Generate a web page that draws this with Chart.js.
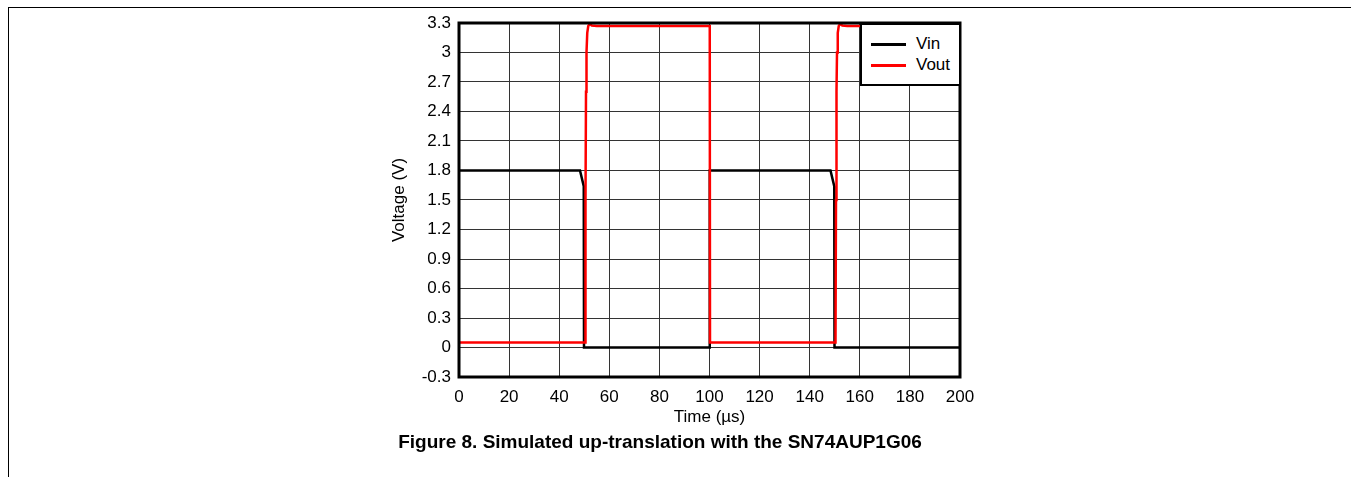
<!DOCTYPE html>
<html>
<head>
<meta charset="utf-8">
<script src="https://cdn.jsdelivr.net/npm/chart.js@4.4.1/dist/chart.umd.min.js"></script>
<style>
  html, body { margin: 0; padding: 0; background: #fff; }
  body { width: 1351px; height: 477px; position: relative; overflow: hidden; font-family: "Liberation Sans", Arial, sans-serif; }
  #frame { position: absolute; left: 8px; top: 7px; right: -4px; bottom: -4px; border-left: 1.5px solid #000; border-top: 1.5px solid #000; }
  #wrap { position: absolute; left: 0; top: 0; width: 1351px; height: 477px; }
  #legend { position: absolute; left: 860px; top: 23px; width: 97px; height: 59px; border: 2px solid #000; background: #fff; }
  .item { position: absolute; left: 9px; font-size: 17px; line-height: 20px; color: #000; }
  .item span.swatch { display: inline-block; width: 35px; height: 2.5px; vertical-align: middle; margin-right: 10px; }
  #caption { position: absolute; left: 0; width: 1320px; top: 431px; text-align: center; font-weight: bold; font-size: 19px; color: #000; }
</style>
</head>
<body>
<div id="frame"></div>
<div id="wrap"><canvas id="chart" width="1351" height="477"></canvas></div>
<div id="legend"></div>
<div id="caption">Figure 8. Simulated up-translation with the SN74AUP1G06</div>
<script>
// Data
const vinTime  = [0, 48.3, 49.8, 49.9, 100, 100.1, 148.3, 149.8, 149.9, 200];
const vinVolt  = [1.8, 1.8, 1.64, 0, 0, 1.8, 1.8, 1.64, 0, 0];

const voutTime = [0, 50.3, 50.5, 50.7, 50.9, 51.2, 51.6, 52.2, 53, 55, 100.1, 100.2,
                  150.3, 150.5, 150.7, 150.9, 151.2, 151.6, 152.2, 153, 155, 200];
const voutVolt = [0.05, 0.05, 1.5, 2.6, 3.0, 3.2, 3.27, 3.29, 3.275, 3.27, 3.27, 0.05,
                  0.05, 1.5, 2.6, 3.0, 3.2, 3.27, 3.29, 3.275, 3.27, 3.27];

const xTicks = [0, 20, 40, 60, 80, 100, 120, 140, 160, 180, 200];
const yTicks = [-0.3, 0, 0.3, 0.6, 0.9, 1.2, 1.5, 1.8, 2.1, 2.4, 2.7, 3, 3.3];

const toPoints = (xs, ys) => xs.map((x, i) => ({ x: x, y: ys[i] }));

// Thick box around the plot area
const plotBorder = {
  id: "plotBorder",
  afterDatasetsDraw(chart) {
    const { ctx, chartArea: a } = chart;
    ctx.save();
    ctx.strokeStyle = "#000";
    ctx.lineWidth = 3;
    ctx.strokeRect(a.left, a.top, a.right - a.left, a.bottom - a.top);
    ctx.restore();
  }
};

const font = { family: "'Liberation Sans', Arial, sans-serif", size: 17 };

const chart = new Chart(document.getElementById("chart"), {
  type: "line",
  data: {
    datasets: [
      { label: "Vin", data: toPoints(vinTime, vinVolt), borderColor: "#000", borderWidth: 2.5, order: 1 },
      { label: "Vout", data: toPoints(voutTime, voutVolt), borderColor: "#ff0000", borderWidth: 2.5, order: 0 }
    ]
  },
  options: {
    responsive: false,
    animation: false,
    events: [],
    layout: { padding: { left: 389, right: 391, top: 23, bottom: 49 } },
    elements: { point: { radius: 0 }, line: { tension: 0, fill: false } },
    plugins: { legend: { display: false }, tooltip: { enabled: false } },
    scales: {
      x: {
        type: "linear", min: 0, max: 200,
        afterBuildTicks: s => { s.ticks = xTicks.map(v => ({ value: v })); },
        afterFit: s => { s.height = 51; },
        ticks: { color: "#000", font: font, padding: 10, maxRotation: 0 },
        grid: { color: "#333", lineWidth: 1, drawTicks: false },
        border: { display: false },
        title: { display: true, text: "Time (µs)", color: "#000", font: font, padding: { top: 0, bottom: 0 } }
      },
      y: {
        type: "linear", min: -0.3, max: 3.3,
        afterBuildTicks: s => { s.ticks = yTicks.map(v => ({ value: v })); },
        afterFit: s => { s.width = 70; },
        ticks: { color: "#000", font: font, padding: 8, callback: v => String(Number(v.toFixed(1))) },
        grid: { color: "#333", lineWidth: 1, drawTicks: false },
        border: { display: false },
        title: { display: true, text: "Voltage (V)", color: "#000", font: font, padding: { top: 0, bottom: 0 } }
      }
    }
  },
  plugins: [plotBorder]
});

// Legend built from the datasets
const legend = document.getElementById("legend");
chart.data.datasets.forEach((ds, i) => {
  const el = document.createElement("div");
  el.className = "item";
  el.style.top = (9 + i * 21) + "px";
  el.innerHTML = '<span class="swatch" style="background:' + ds.borderColor + '"></span>' + ds.label;
  legend.appendChild(el);
});
</script>
</body>
</html>
